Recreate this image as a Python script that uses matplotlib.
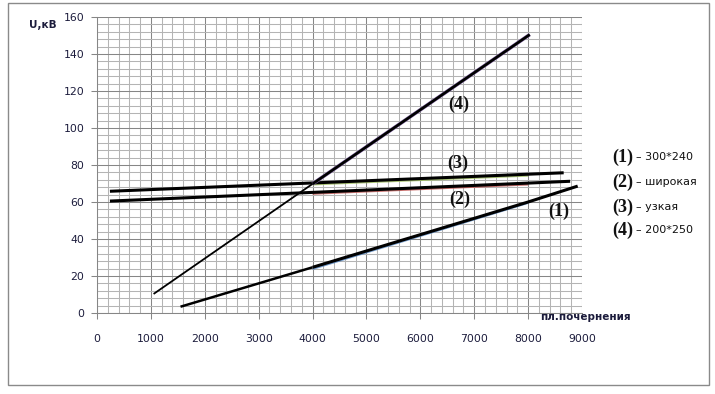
import matplotlib.pyplot as plt
from matplotlib.ticker import MultipleLocator
from matplotlib.patches import Rectangle

# curve (1) 300*240
x1_thin = [1550, 4000]
y1_thin = [3.4, 24.7]
x1_thick = [4000, 8000, 8920]
y1_thick = [24.7, 60.0, 68.6]

# curve (2) широкая
x2 = [240, 4000, 8780]
y2 = [60.5, 65.2, 71.2]

# curve (3) узкая
x3 = [240, 4000, 8660]
y3 = [65.8, 70.3, 75.8]

# curve (4) 200*250
x4_thin = [1050, 4000]
y4_thin = [10.3, 69.8]
x4_thick = [4000, 8030]
y4_thick = [69.8, 150.5]

# coloured shade under the black lines
shade_x = [4000, 8000]

labels = ["(1)", "(2)", "(3)", "(4)"]
names = ["300*240", "широкая", "узкая", "200*250"]
label_x = [8570, 6735, 6700, 6716]
label_y = [55, 61.5, 81, 113]

fig = plt.figure(figsize=(7.15, 3.94), dpi=100)
ax = fig.add_axes([97 / 715, 1 - 313 / 394, 485 / 715, 296 / 394])

ax.set_xlim(0, 9000)
ax.set_ylim(0, 160)
ax.xaxis.set_major_locator(MultipleLocator(1000))
ax.xaxis.set_minor_locator(MultipleLocator(200))
ax.yaxis.set_major_locator(MultipleLocator(20))
ax.yaxis.set_minor_locator(MultipleLocator(4))
ax.grid(which="minor", color="#b4b4b4", linewidth=0.75)
ax.grid(which="major", color="#868686", linewidth=0.75)
ax.set_axisbelow(True)
for s in ["top", "right"]:
    ax.spines[s].set_visible(False)
for s in ["left", "bottom"]:
    ax.spines[s].set_color("#868686")
    ax.spines[s].set_linewidth(0.75)
ax.tick_params(which="minor", length=0)
ax.tick_params(which="major", length=4, width=0.75, color="#868686", labelsize=7.8, labelcolor="#1c1c3c")
ax.tick_params(axis="x", pad=11)
ax.tick_params(axis="y", pad=5)


def shade(xs, ys, color, dy):
    # value on the line at shade positions, slightly shifted
    k = (ys[-1] - ys[0]) / (xs[-1] - xs[0])
    yy = [ys[0] + k * (x - xs[0]) - dy for x in shade_x]
    ax.plot(shade_x, yy, color=color, linewidth=1.4, alpha=0.8, solid_capstyle="butt")


shade(x3, y3, "#9bbb59", 0.8)
shade(x2, y2, "#c0504d", 0.8)
shade(x1_thick, y1_thick, "#4f81bd", 0.9)

ax.plot(x3, y3, color="black", linewidth=2.2, solid_capstyle="butt")
ax.plot(x2, y2, color="black", linewidth=2.2, solid_capstyle="butt")
ax.plot(x1_thin, y1_thin, color="black", linewidth=1.8, solid_capstyle="butt")
ax.plot(x1_thick, y1_thick, color="black", linewidth=2.2, solid_capstyle="butt")
ax.plot(x4_thin, y4_thin, color="black", linewidth=1.3, solid_capstyle="butt")
ax.plot(x4_thick, y4_thick, color="#8064a2", linewidth=2.6, solid_capstyle="butt")
ax.plot(x4_thick, y4_thick, color="black", linewidth=1.9, solid_capstyle="butt")

for i in range(4):
    ax.text(label_x[i], label_y[i], labels[i], fontsize=13, fontweight="bold",
            family="Liberation Serif", ha="center", va="center", color="#111111")

fig.text(43 / 715, 1 - 25 / 394, "U,кВ", fontsize=7.5, fontweight="bold",
         ha="center", va="center", color="#1c1c3c")
fig.text(585 / 715, 1 - 317 / 394, "пл.почернения", fontsize=7.5, fontweight="bold",
         ha="center", va="center", color="#1c1c3c")

# legend on the right
leg_y = [157, 182, 207, 230]
for i in range(4):
    fig.text(623 / 715, 1 - leg_y[i] / 394, labels[i], fontsize=13, fontweight="bold",
             family="Liberation Serif", ha="center", va="center", color="#111111")
    fig.text(636 / 715, 1 - leg_y[i] / 394, "– " + names[i], fontsize=8,
             ha="left", va="center", color="#111111")

fig.patches.append(Rectangle((8 / 715, 1 - 385 / 394), 701 / 715, 382 / 394,
                             transform=fig.transFigure, fill=False,
                             edgecolor="#8a8a8a", linewidth=1.0))

plt.savefig("out.png", dpi=100)
